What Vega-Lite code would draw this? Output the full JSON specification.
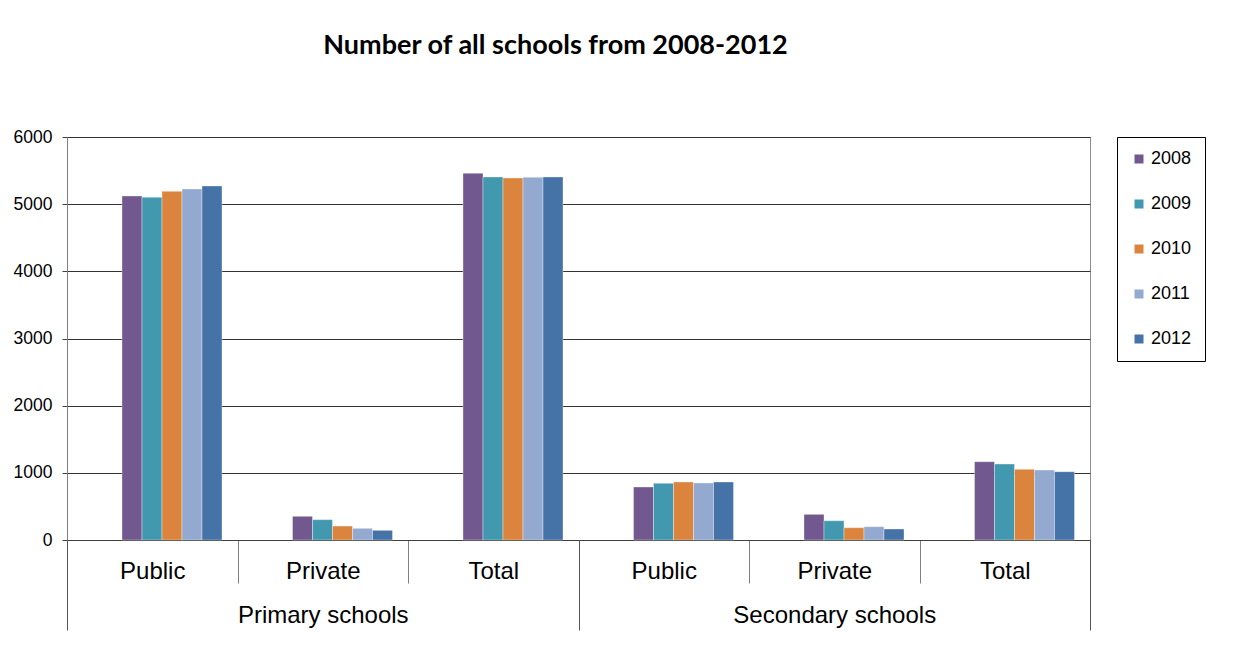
{
  "$schema": "https://vega.github.io/schema/vega-lite/v6.json",
  "width": 1023,
  "height": 403,
  "autosize": {"type": "none"},
  "padding": {"left": 67, "top": 137, "right": 166, "bottom": 105},
  "background": "white",
  "title": {
    "text": "Number of all schools from 2008-2012",
    "font": "Lato",
    "fontSize": 27,
    "fontWeight": "bold",
    "color": "black",
    "anchor": "middle",
    "dx": -23,
    "offset": 68
  },
  "config": {
    "view": {"stroke": "#8c8c8c", "strokeWidth": 1},
    "font": "Liberation Sans"
  },
  "data": {
    "values": [
      {"group": "Primary schools", "category": "Primary schools|Public", "year": "2008", "value": 5122},
      {"group": "Primary schools", "category": "Primary schools|Public", "year": "2009", "value": 5103},
      {"group": "Primary schools", "category": "Primary schools|Public", "year": "2010", "value": 5192},
      {"group": "Primary schools", "category": "Primary schools|Public", "year": "2011", "value": 5226},
      {"group": "Primary schools", "category": "Primary schools|Public", "year": "2012", "value": 5271},
      {"group": "Primary schools", "category": "Primary schools|Private", "year": "2008", "value": 353},
      {"group": "Primary schools", "category": "Primary schools|Private", "year": "2009", "value": 303},
      {"group": "Primary schools", "category": "Primary schools|Private", "year": "2010", "value": 208},
      {"group": "Primary schools", "category": "Primary schools|Private", "year": "2011", "value": 174},
      {"group": "Primary schools", "category": "Primary schools|Private", "year": "2012", "value": 144},
      {"group": "Primary schools", "category": "Primary schools|Total", "year": "2008", "value": 5460},
      {"group": "Primary schools", "category": "Primary schools|Total", "year": "2009", "value": 5405},
      {"group": "Primary schools", "category": "Primary schools|Total", "year": "2010", "value": 5390},
      {"group": "Primary schools", "category": "Primary schools|Total", "year": "2011", "value": 5400},
      {"group": "Primary schools", "category": "Primary schools|Total", "year": "2012", "value": 5405},
      {"group": "Secondary schools", "category": "Secondary schools|Public", "year": "2008", "value": 789},
      {"group": "Secondary schools", "category": "Secondary schools|Public", "year": "2009", "value": 844},
      {"group": "Secondary schools", "category": "Secondary schools|Public", "year": "2010", "value": 864},
      {"group": "Secondary schools", "category": "Secondary schools|Public", "year": "2011", "value": 849},
      {"group": "Secondary schools", "category": "Secondary schools|Public", "year": "2012", "value": 864},
      {"group": "Secondary schools", "category": "Secondary schools|Private", "year": "2008", "value": 382},
      {"group": "Secondary schools", "category": "Secondary schools|Private", "year": "2009", "value": 287},
      {"group": "Secondary schools", "category": "Secondary schools|Private", "year": "2010", "value": 183},
      {"group": "Secondary schools", "category": "Secondary schools|Private", "year": "2011", "value": 198},
      {"group": "Secondary schools", "category": "Secondary schools|Private", "year": "2012", "value": 164},
      {"group": "Secondary schools", "category": "Secondary schools|Total", "year": "2008", "value": 1166},
      {"group": "Secondary schools", "category": "Secondary schools|Total", "year": "2009", "value": 1131},
      {"group": "Secondary schools", "category": "Secondary schools|Total", "year": "2010", "value": 1052},
      {"group": "Secondary schools", "category": "Secondary schools|Total", "year": "2011", "value": 1042},
      {"group": "Secondary schools", "category": "Secondary schools|Total", "year": "2012", "value": 1017}
    ]
  },
  "layer": [
    {
      "mark": {"type": "bar", "stroke": "white", "strokeWidth": 0.6, "strokeOpacity": 0.6},
      "encoding": {
        "x": {
          "field": "category",
          "type": "nominal",
          "sort": null,
          "scale": {"paddingInner": 0, "paddingOuter": 0},
          "axis": {
            "title": null,
            "orient": "bottom",
            "labelExpr": "split(datum.value, '|')[1]",
            "labelAngle": 0,
            "labelFont": "Liberation Sans",
            "labelFontSize": 24,
            "labelColor": "black",
            "labelBaseline": "alphabetic",
            "labelPadding": -5,
            "labelLimit": 400,
            "tickBand": "extent",
            "tickSize": 43,
            "tickColor": "#808080",
            "tickWidth": 1,
            "domainColor": "#404040",
            "grid": false
          }
        },
        "xOffset": {
          "field": "year",
          "type": "nominal",
          "scale": {"range": [55, 155], "paddingInner": 0, "paddingOuter": 0}
        },
        "y": {
          "field": "value",
          "type": "quantitative",
          "scale": {"domain": [0, 6000], "nice": false},
          "axis": {
            "title": null,
            "values": [0, 1000, 2000, 3000, 4000, 5000, 6000],
            "format": "d",
            "labelFont": "Liberation Sans",
            "labelFontSize": 17.5,
            "labelColor": "black",
            "labelPadding": 10,
            "tickSize": 5,
            "tickColor": "#404040",
            "domainColor": "#808080",
            "grid": true,
            "gridColor": "#333333",
            "gridWidth": 1
          }
        },
        "color": {
          "field": "year",
          "type": "nominal",
          "scale": {
            "domain": ["2008", "2009", "2010", "2011", "2012"],
            "range": ["#71588F", "#4198AF", "#DB843D", "#93A9CF", "#4572A7"]
          },
          "legend": {
            "title": null,
            "orient": "right",
            "offset": 27,
            "symbolType": "square",
            "symbolSize": 81,
            "symbolStrokeWidth": 0,
            "labelFont": "Liberation Sans",
            "labelFontSize": 18,
            "labelColor": "black",
            "labelOffset": 3,
            "rowPadding": 27,
            "padding": 13,
            "strokeColor": "#000000",
            "fillColor": "white"
          }
        }
      }
    },
    {
      "mark": {"type": "rule", "opacity": 0},
      "encoding": {
        "x": {
          "field": "group",
          "type": "nominal",
          "sort": null,
          "scale": {"paddingInner": 0, "paddingOuter": 0},
          "axis": {
            "title": null,
            "orient": "bottom",
            "labelAngle": 0,
            "labelFont": "Liberation Sans",
            "labelFontSize": 24,
            "labelColor": "black",
            "labelBaseline": "alphabetic",
            "labelPadding": -8,
            "labelLimit": 400,
            "tickBand": "extent",
            "tickSize": 90,
            "tickColor": "#555555",
            "tickWidth": 1,
            "domain": false,
            "grid": false
          }
        }
      }
    }
  ],
  "resolve": {"scale": {"x": "independent"}, "axis": {"x": "independent"}}
}
